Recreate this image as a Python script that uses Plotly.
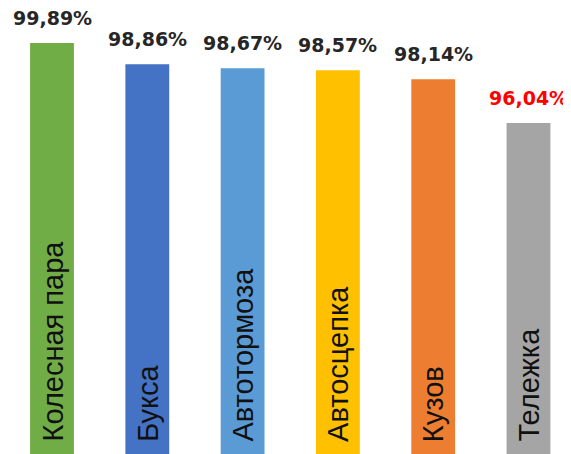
import plotly.graph_objects as go

categories = ["Колесная пара", "Букса", "Автотормоза", "Автосцепка", "Кузов", "Тележка"]
values = [99.89, 98.86, 98.67, 98.57, 98.14, 96.04]
value_labels = ["99,89%", "98,86%", "98,67%", "98,57%", "98,14%", "96,04%"]
bar_colors = ["#70AD47", "#4472C4", "#5B9BD5", "#FFC000", "#ED7D31", "#A5A5A5"]
label_colors = ["#262626", "#262626", "#262626", "#262626", "#262626", "#FF0000"]

y_min, y_max = 80.11, 101.57

fig = go.Figure()
fig.add_trace(go.Bar(
    x=list(range(len(categories))),
    y=values,
    marker=dict(color=bar_colors, line=dict(width=0)),
    width=0.46,
    hoverinfo="skip",
))

annotations = []
for i, (v, lab, col, cat) in enumerate(zip(values, value_labels, label_colors, categories)):
    annotations.append(dict(
        x=i, y=v, xref="x", yref="y", text=lab, showarrow=False,
        yanchor="bottom", xanchor="center", yshift=12,
        font=dict(family="DejaVu Sans", size=19, color=col, weight="bold"),
    ))
    annotations.append(dict(
        x=i, y=y_min, xref="x", yref="y", text=cat, showarrow=False,
        yanchor="bottom", xanchor="center", yshift=10, textangle=-90,
        font=dict(family="Liberation Sans", size=29, color="#111111"),
    ))

fig.update_layout(
    width=563, height=446,
    margin=dict(l=0, r=0, t=0, b=0),
    paper_bgcolor="white", plot_bgcolor="white",
    showlegend=False,
    xaxis=dict(range=[-0.4617, 5.446], visible=False, fixedrange=True),
    yaxis=dict(range=[y_min, y_max], visible=False, fixedrange=True),
    annotations=annotations,
)

fig.write_html("out.html", config={"displayModeBar": False})
